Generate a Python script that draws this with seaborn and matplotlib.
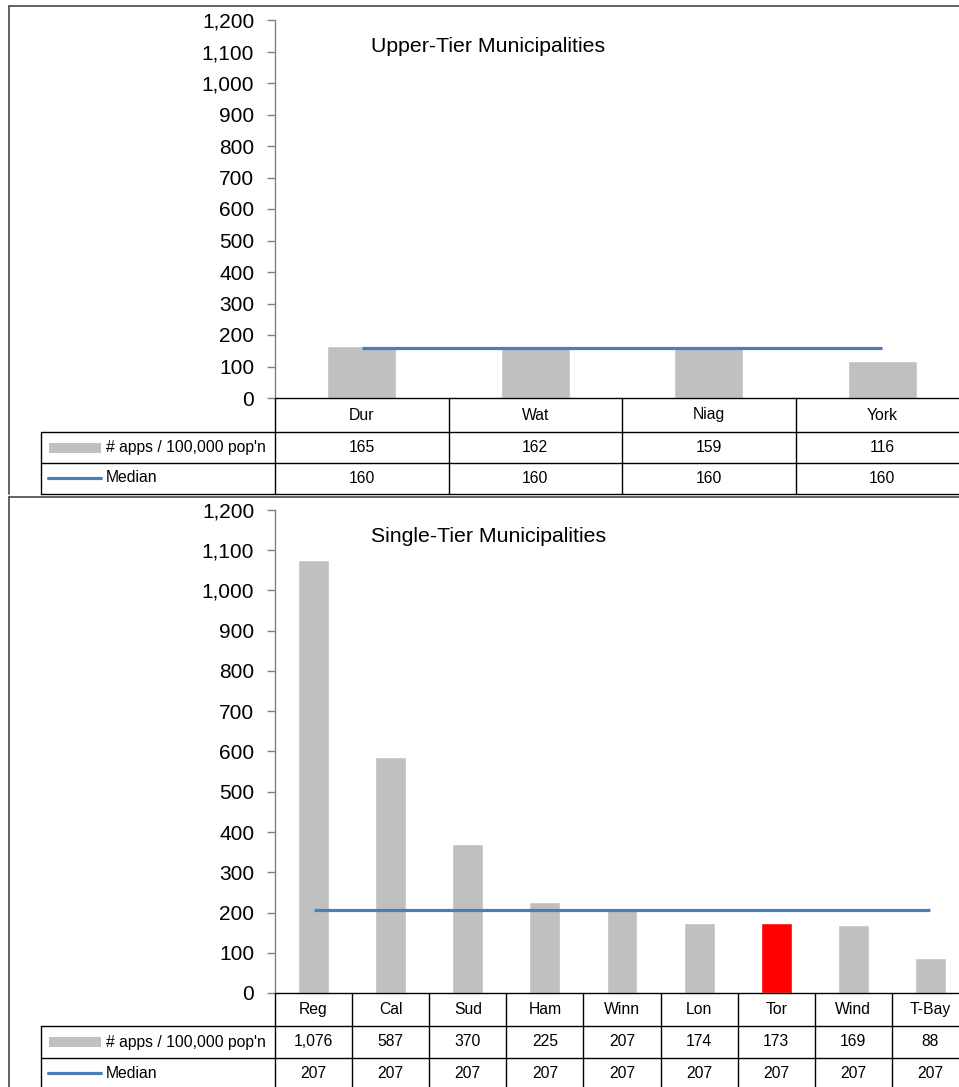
import matplotlib
matplotlib.use("Agg")
import matplotlib.pyplot as plt
import matplotlib.transforms as mtransforms
import seaborn as sns
import pandas as pd

sns.set_theme(style="white")
plt.rcParams['font.family'] = ['Liberation Sans', 'DejaVu Sans']
plt.rcParams['text.color'] = "black"
plt.rcParams['ytick.labelcolor'] = "black"

# data
upper_names = ["Dur", "Wat", "Niag", "York"]
upper_apps = [165, 162, 159, 116]
upper_median = [160, 160, 160, 160]

single_names = ["Reg", "Cal", "Sud", "Ham", "Winn", "Lon", "Tor", "Wind", "T-Bay"]
single_apps = [1076, 587, 370, 225, 207, 174, 173, 169, 88]
single_median = [207, 207, 207, 207, 207, 207, 207, 207, 207]
single_highlight = "Tor"

BAR = "#C0C0C0"
HIGHLIGHT = "#FF0000"
LINE = "#4A7EBB"
W, H = 959, 1087
TFS = 11.3  # table font size

fig = plt.figure(figsize=(W / 100, H / 100), dpi=100)


def fy(py):
    return 1 - py / H


def fx(px):
    return px / W


def panel(names, apps, median, title, title_y, box_top, y_top, y_zero, rows, highlight=None):
    # outer border of the panel
    fig.add_artist(plt.Line2D([fx(9), fx(9)], [fy(box_top), fy(rows[-1])], color="#555555", lw=1.3))
    fig.add_artist(plt.Line2D([fx(9), 1.0], [fy(box_top), fy(box_top)], color="#555555", lw=1.3))

    ax = fig.add_axes([fx(275), fy(y_zero), fx(969) - fx(275), fy(y_top) - fy(y_zero)])
    df = pd.DataFrame({"name": names, "apps": apps})
    colors = [HIGHLIGHT if n == highlight else BAR for n in names]
    sns.barplot(data=df, x="name", y="apps", hue="name", palette=colors,
                legend=False, width=0.4, ax=ax, saturation=1)
    ax.plot(range(len(names)), median, color=LINE, lw=2.3, solid_capstyle="butt")
    ax.set_xlim(-0.5, len(names) - 0.5)
    ax.set_ylim(0, 1200)
    ax.set_yticks(range(0, 1201, 100))
    ax.set_yticklabels([f"{v:,}" for v in range(0, 1201, 100)])
    ax.tick_params(axis="y", left=True, length=6, width=1, color="#808080", pad=9,
                   labelsize=15, labelcolor="black")
    ax.set_xticks([])
    ax.set_xlabel("")
    ax.set_ylabel("")
    for s in ["top", "right", "bottom"]:
        ax.spines[s].set_visible(False)
    ax.spines["left"].set_color("#808080")
    ax.spines["left"].set_linewidth(1)
    ax.patch.set_alpha(0)
    fig.text(fx(371), fy(title_y), title, fontsize=15.3, va="center", ha="left")

    # data table below the axes
    tr = mtransforms.blended_transform_factory(ax.transData, fig.transFigure)
    n = len(names)
    r0, r1, r2, r3 = rows
    kw = dict(color="black", lw=1, clip_on=False)
    fig.add_artist(plt.Line2D([fx(275), 1.0], [fy(r0), fy(r0)], **kw))
    for r in (r1, r2, r3):
        fig.add_artist(plt.Line2D([fx(41), 1.0], [fy(r), fy(r)], **kw))
    fig.add_artist(plt.Line2D([fx(41), fx(41)], [fy(r1), fy(r3)], **kw))
    fig.add_artist(plt.Line2D([fx(275), fx(275)], [fy(r0), fy(r3)], **kw))
    for i in range(n):
        ax.add_line(plt.Line2D([i + 0.5, i + 0.5], [fy(r0), fy(r3)], transform=tr, **kw))
        ax.text(i, fy((r0 + r1) / 2), names[i], transform=tr, ha="center", va="center", fontsize=TFS)
        ax.text(i, fy((r1 + r2) / 2), f"{apps[i]:,}", transform=tr, ha="center", va="center", fontsize=TFS)
        ax.text(i, fy((r2 + r3) / 2), f"{median[i]:,}", transform=tr, ha="center", va="center", fontsize=TFS)

    # legend keys inside the table
    yb = (r1 + r2) / 2
    fig.add_artist(plt.Rectangle((fx(49), fy(yb + 5)), fx(101) - fx(49), fy(yb - 5) - fy(yb + 5),
                                 color=BAR, lw=0))
    fig.text(fx(106), fy(yb), "# apps / 100,000 pop'n", fontsize=TFS, va="center", ha="left")
    yl = (r2 + r3) / 2 - 1
    fig.add_artist(plt.Line2D([fx(48), fx(101)], [fy(yl), fy(yl)], color=LINE, lw=2.3))
    fig.text(fx(106), fy(yl), "Median", fontsize=TFS, va="center", ha="left")
    return ax


panel(upper_names, upper_apps, upper_median, "Upper-Tier Municipalities", title_y=47,
      box_top=6, y_top=20, y_zero=398, rows=[398, 432, 463, 494])
panel(single_names, single_apps, single_median, "Single-Tier Municipalities", title_y=536,
      box_top=497, y_top=510, y_zero=993, rows=[993, 1026, 1058, 1090],
      highlight=single_highlight)

fig.savefig("out.png", dpi=100)
